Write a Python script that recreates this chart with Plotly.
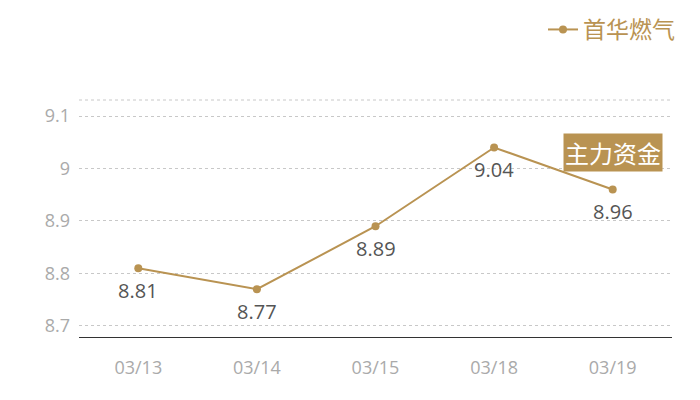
import plotly.graph_objects as go

categories = ["03/13", "03/14", "03/15", "03/18", "03/19"]
values = [8.81, 8.77, 8.89, 9.04, 8.96]
series_name = "首华燃气"
y_ticks = [8.7, 8.8, 8.9, 9.0, 9.1]
y_tick_labels = ["8.7", "8.8", "8.9", "9", "9.1"]
badge_text = "主力资金"

gold = "#b99352"
font_family = "Open Sans, Noto Sans CJK SC, sans-serif"
cjk_family = "Noto Sans CJK SC, sans-serif"

fig = go.Figure()
fig.add_trace(go.Scatter(
    x=categories, y=values, name=series_name,
    mode="lines+markers",
    line=dict(color=gold, width=2),
    marker=dict(color=gold, size=8),
))

for c, v in zip(categories, values):
    fig.add_annotation(
        x=c, y=v, yshift=-22, text=f"{v:g}", showarrow=False,
        font=dict(color="#555555", size=20, family=font_family),
    )

fig.add_annotation(
    x=categories[-1], y=values[-1], yshift=37,
    text=badge_text, showarrow=False,
    bgcolor=gold, font=dict(color="white", size=24, family=cjk_family),
    borderpad=1,
)

# top dotted boundary
fig.add_shape(type="line", xref="paper", yref="paper", x0=0, x1=1, y0=1, y1=1,
              line=dict(color="#c8c8c8", width=1, dash="dot"))

fig.update_layout(
    width=700, height=400,
    margin=dict(l=71, r=36, t=92, b=71, autoexpand=False),
    paper_bgcolor="white", plot_bgcolor="white",
    font=dict(family=font_family),
    showlegend=True,
    legend=dict(
        orientation="v", xref="container", yref="container",
        x=0.96, xanchor="right", y=1.0, yanchor="top",
        font=dict(color=gold, size=23, family=cjk_family),
        itemwidth=30, bgcolor="rgba(0,0,0,0)",
    ),
    xaxis=dict(
        type="category", showgrid=False, showline=True, linecolor="#333333", linewidth=1,
        ticks="", tickfont=dict(color="#aaaaaa", size=18), ticklabelstandoff=14,
        range=[-0.5, 4.5], zeroline=False, automargin=False,
    ),
    yaxis=dict(
        range=[8.679, 9.1305], tickvals=y_ticks, ticktext=y_tick_labels,
        showgrid=True, gridcolor="#c8c8c8", griddash="dot", gridwidth=1,
        zeroline=False, showline=False, ticks="", automargin=False,
        tickfont=dict(color="#aaaaaa", size=18), ticklabelstandoff=8,
    ),
)

fig.write_html("out.html")
